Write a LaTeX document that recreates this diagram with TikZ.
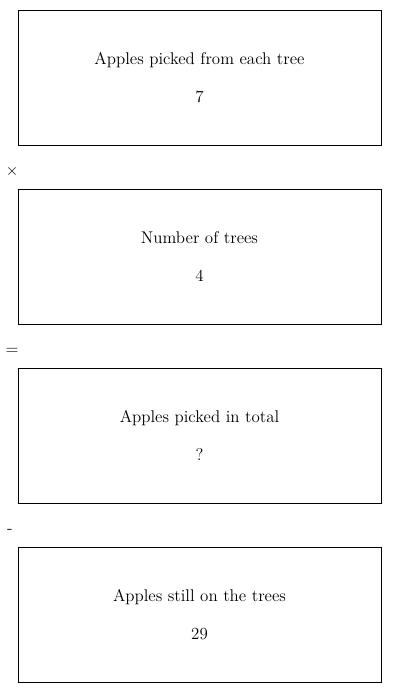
\documentclass[tikz,border=0pt]{standalone}
\usetikzlibrary{positioning}

\begin{document}
\begin{tikzpicture}[x=0.75pt, y=0.75pt, node distance=33pt, font=\fontsize{12.7}{15}\selectfont]
  \tikzset{
    quantity/.style={draw, line width=0.75pt, outer sep=0pt, align=center, minimum width=272.25pt, minimum height=101.25pt, inner sep=0pt},
    oper/.style={inner sep=0pt}
  }
  \useasboundingbox (0,0) rectangle (400,-693);

  \node[quantity, anchor=north west] (each) at (18,-10) {Apples picked from each tree\\[13pt]7};
  \node[quantity, below=of each] (trees) {Number of trees\\[13pt]4};
  \node[quantity, below=of trees] (total) {Apples picked in total\\[13pt]?};
  \node[quantity, below=of total] (left) {Apples still on the trees\\[13pt]29};

  \node[oper] (times) at ([xshift=-4.5pt, yshift=-19.5pt]each.south west) {$\times$};
  \node[oper] (equals) at ([xshift=-4.5pt, yshift=-20.5pt]trees.south west) {=};
  \node[oper] (minus) at ([xshift=-6pt, yshift=-21.5pt]total.south west) {-};
\end{tikzpicture}
\end{document}
